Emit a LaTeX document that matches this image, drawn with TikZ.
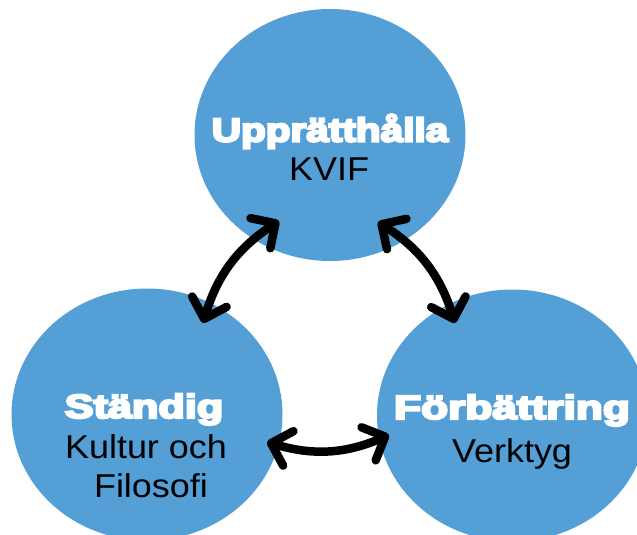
\documentclass[tikz,border=0pt]{standalone}
\usepackage{fontspec}
\usetikzlibrary{arrows.meta,shapes.geometric}
\newfontfamily\headfont[FakeBold=6]{Liberation Sans Bold}
\newfontfamily\bodyfont[FakeStretch=1.09]{Liberation Sans}
\definecolor{circblue}{RGB}{84,159,214}
\begin{document}
\begin{tikzpicture}[x=1pt,y=-1pt,
  blob/.style={ellipse, fill=circblue, draw=none, minimum width=271pt, minimum height=252pt, inner sep=0pt},
  head/.style={anchor=base, text=white, inner sep=0pt, font=\headfont\fontsize{33.5}{36}\selectfont},
  body/.style={anchor=base, text=black, inner sep=0pt, font=\bodyfont\fontsize{33}{36}\selectfont},
  link/.style={line width=8.5pt, line cap=round, {Straight Barb[length=18pt,width=36pt,round]}-{Straight Barb[length=18pt,width=36pt,round]}}]
\useasboundingbox (0,0) rectangle (637,535);
\node[blob] (top) at (330,135) {};
\node[blob] (left) at (147,414.5) {};
\node[blob] (right) at (512.5,415.5) {};
\node[head] (t1) at (330,141.6) {\scalebox{1.21}[1]{Upprätthålla}};
\node[body] (t2) at (329,180.8) {KVIF};
\node[head] (l1) at (144,418) {\scalebox{1.29}[1]{Ständig}};
\node[body] (l2) at (146,458) {Kultur och};
\node[body] (l3) at (151,497) {Filosofi};
\node[head] (r1) at (512,419) {\scalebox{1.32}[1]{Förbättring}};
\node[body] (r2) at (512,462) {Verktyg};
\coordinate (a1) at (279,221);
\coordinate (a2) at (203,323);
\coordinate (b1) at (455,323);
\coordinate (b2) at (378,222);
\coordinate (c1) at (267,442);
\coordinate (c2) at (389,435);
\draw[link] (a1) to[bend right=20] (a2);
\draw[link] (b1) to[bend right=20] (b2);
\draw[link] (c1) to[bend right=20] (c2);
\end{tikzpicture}
\end{document}
